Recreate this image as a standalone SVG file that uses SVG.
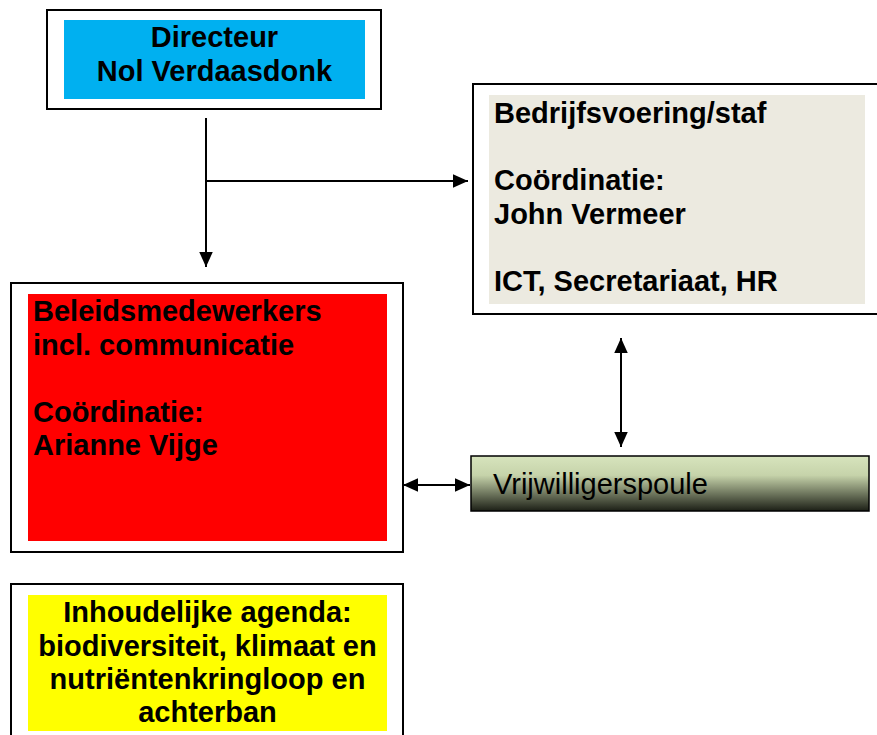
<svg xmlns="http://www.w3.org/2000/svg" width="877" height="735" viewBox="0 0 877 735">
<style>
.frame{fill:#fff;stroke:#000;stroke-width:2}
.t{font-family:"Liberation Sans",Arial,sans-serif;font-size:29px;font-weight:bold;fill:#000}
.r{font-family:"Liberation Sans",Arial,sans-serif;font-size:29px;fill:#000}
.c{text-anchor:middle}
.ln{stroke:#000;stroke-width:2;fill:none}
</style>
<defs>
<linearGradient id="gr" x1="0" y1="0" x2="0" y2="1">
<stop offset="0" stop-color="#d7e4bd"/>
<stop offset="0.35" stop-color="#c6d3aa"/>
<stop offset="1" stop-color="#1c1f16"/>
</linearGradient>
<marker id="ah" viewBox="0 0 10 10" refX="10" refY="5" markerWidth="15" markerHeight="15" markerUnits="userSpaceOnUse" orient="auto-start-reverse">
<path d="M0,0.5 L10,5 L0,9.5 Z" fill="#000"/>
</marker>
</defs>
<rect width="877" height="735" fill="#fff"/>
<g id="directeur">
<rect class="frame" x="47" y="10" width="334" height="99"/>
<rect x="64" y="20" width="301" height="79" fill="#00b0f0"/>
<text class="t c" x="214.5" y="47">Directeur</text>
<text class="t c" x="214.5" y="81">Nol Verdaasdonk</text>
</g>
<g id="bedrijfsvoering">
<rect class="frame" x="473" y="84" width="420" height="230"/>
<rect x="489" y="95" width="376" height="209" fill="#eceae0"/>
<text class="t" x="494" y="122.5">Bedrijfsvoering/staf</text>
<text class="t" x="494" y="190">Coördinatie:</text>
<text class="t" x="494" y="223.5">John Vermeer</text>
<text class="t" x="494" y="291">ICT, Secretariaat, HR</text>
</g>
<g id="beleid">
<rect class="frame" x="11" y="283" width="392" height="269"/>
<rect x="28" y="294" width="359" height="247" fill="#ff0000"/>
<text class="t" x="33" y="321">Beleidsmedewerkers</text>
<text class="t" x="33" y="354.5">incl. communicatie</text>
<text class="t" x="33" y="421.5">Coördinatie:</text>
<text class="t" x="33" y="455">Arianne Vijge</text>
</g>
<g id="vrijwilligers">
<rect x="471" y="456" width="398" height="55" fill="url(#gr)" stroke="#000" stroke-width="1.5"/>
<text class="r" x="493" y="493.5">Vrijwilligerspoule</text>
</g>
<g id="inhoud">
<rect class="frame" x="11" y="584" width="392" height="170"/>
<rect x="28" y="595" width="359" height="136" fill="#ffff00"/>
<text class="t c" x="207.5" y="622">Inhoudelijke agenda:</text>
<text class="t c" x="207.5" y="655.5">biodiversiteit, klimaat en</text>
<text class="t c" x="207.5" y="689">nutriëntenkringloop en</text>
<text class="t c" x="207.5" y="722">achterban</text>
</g>
<g id="connectors">
<line class="ln" x1="206" y1="118" x2="206" y2="267" marker-end="url(#ah)"/>
<line class="ln" x1="206" y1="181" x2="468" y2="181" marker-end="url(#ah)"/>
<line class="ln" x1="621" y1="338" x2="621" y2="447" marker-start="url(#ah)" marker-end="url(#ah)"/>
<line class="ln" x1="403" y1="485" x2="470" y2="485" marker-start="url(#ah)" marker-end="url(#ah)"/>
</g>
</svg>
